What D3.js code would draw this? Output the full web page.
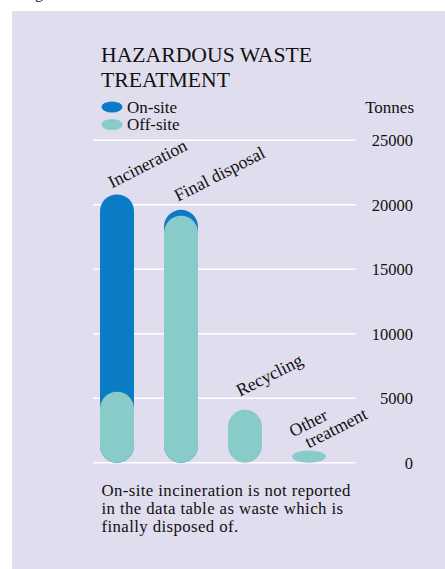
<!DOCTYPE html>
<html>
<head>
<meta charset="utf-8">
<script src="https://cdn.jsdelivr.net/npm/d3@7"></script>
<style>
  html, body { margin: 0; padding: 0; background: #ffffff; }
  svg { display: block; }
  text { font-family: "Liberation Serif", "Times New Roman", serif; fill: #111; }
</style>
</head>
<body>
<script>
// Hazardous waste treatment, tonnes, split by on-site / off-site
const categories = ["Incineration", "Final disposal", "Recycling", "Other treatment"];
const onSite = [15300, 450, 0, 0];
const offSite = [5500, 19150, 4100, 950];
const yTicks = [0, 5000, 10000, 15000, 20000, 25000];
const seriesNames = ["On-site", "Off-site"];
const colors = { "On-site": "#0a7bc4", "Off-site": "#88cbc8" };

// label anchor nudges relative to each bar's top (layout only)
const labelNudge = [[-5, -6], [-3, -8], [-5, -13], [-16, -13]];

const W = 445, H = 569;
const svg = d3.select("body").append("svg").attr("width", W).attr("height", H);

// panel
svg.append("rect").attr("x", 12).attr("y", 11).attr("width", W - 12).attr("height", H - 11)
  .attr("fill", "#e0ddee");
// tail of the preceding text line above the panel
svg.append("text").attr("x", 35).attr("y", -2).attr("font-size", 16).text("g");

const y = d3.scaleLinear().domain([0, 25000]).range([462.7, 140.2]);
const x = d3.scalePoint().domain(categories).range([117, 309]);
const barW = 34;

// title
const title = svg.append("text").attr("x", 101).attr("y", 62).attr("font-size", 21.7);
title.append("tspan").attr("x", 101).text("HAZARDOUS WASTE");
title.append("tspan").attr("x", 101).attr("dy", 25).text("TREATMENT");

// legend
seriesNames.forEach((s, i) => {
  const cy = 107 + i * 17.5;
  svg.append("ellipse").attr("cx", 112).attr("cy", cy).attr("rx", 10.5).attr("ry", 5.5)
    .attr("fill", colors[s]);
  svg.append("text").attr("x", 127).attr("y", cy + 5.5).attr("font-size", 17).text(s);
});

// grid
svg.append("g").selectAll("line").data(yTicks).join("line")
  .attr("x1", 93).attr("x2", 356)
  .attr("y1", d => y(d)).attr("y2", d => y(d))
  .attr("stroke", "#ffffff").attr("stroke-width", 1.5);

// axis labels on the right
const axis = d3.axisRight(y).tickValues(yTicks).tickSize(0).tickPadding(0).tickFormat(d3.format("d"));
const ag = svg.append("g").attr("transform", "translate(413,0)").call(axis);
ag.select(".domain").remove();
ag.selectAll("text").attr("text-anchor", "end").attr("dy", "0.35em")
  .attr("font-size", 16.5).attr("font-family", "Liberation Serif, serif").attr("fill", "#111");
svg.append("text").attr("x", 414).attr("y", 113).attr("text-anchor", "end")
  .attr("font-size", 17).text("Tonnes");

// pill bars: on-site total drawn first, off-site laid over it
function pill(g, cx, v, color) {
  const h = y(0) - y(v);
  g.append("rect").attr("x", cx - barW / 2).attr("y", y(v)).attr("width", barW).attr("height", h)
    .attr("rx", barW / 2).attr("ry", Math.min(barW / 2, h / 2)).attr("fill", color);
}
const bars = svg.append("g");
categories.forEach((c, i) => {
  if (onSite[i] > 0) pill(bars, x(c), onSite[i] + offSite[i], colors["On-site"]);
  pill(bars, x(c), offSite[i], colors["Off-site"]);
});

// rotated category labels
const angle = -27;
categories.forEach((c, i) => {
  const top = y(onSite[i] + offSite[i]);
  const lx = x(c) + labelNudge[i][0], ly = top + labelNudge[i][1];
  const t = svg.append("text").attr("font-size", 17.8)
    .attr("transform", `translate(${lx},${ly}) rotate(${angle})`);
  const words = c === "Other treatment" ? ["Other", "treatment"] : [c];
  words.forEach((w, k) => {
    t.append("tspan").attr("x", k * 9).attr("dy", k ? 17 : 0).text(w);
  });
});

// footnote
const note = ["On-site incineration is not reported", "in the data table as waste which is", "finally disposed of."];
svg.append("g").selectAll("text").data(note).join("text")
  .attr("x", 101.5).attr("y", (d, i) => 496 + i * 17.8)
  .attr("font-size", 16.8).attr("letter-spacing", 0.4).text(d => d);
</script>
</body>
</html>
